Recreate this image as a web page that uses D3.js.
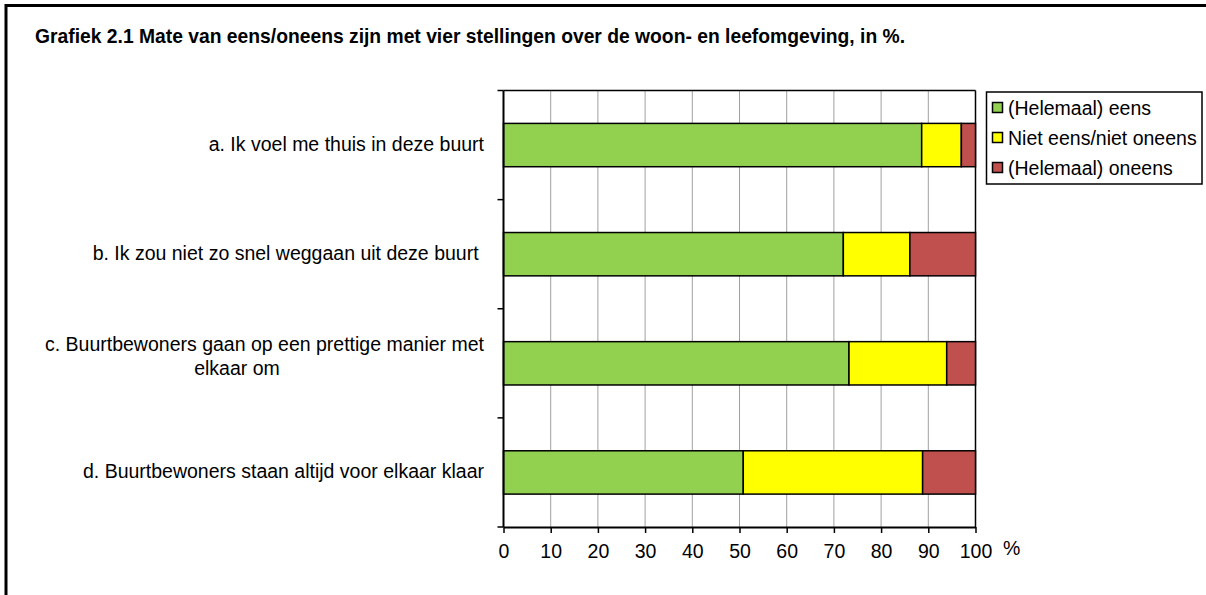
<!DOCTYPE html>
<html><head><meta charset="utf-8">
<script src="https://cdn.jsdelivr.net/npm/d3@7"></script>
<style>
body{margin:0;background:#fff}
text{font-family:"Liberation Sans",Arial,sans-serif;white-space:pre;fill:#000}
</style>
</head><body><svg id="c" width="1206" height="595"></svg>
<script>
const title = "Grafiek 2.1 Mate van eens/oneens zijn met vier stellingen over de woon- en leefomgeving, in %.";
const categories = [
  "a. Ik voel me thuis in deze buurt",
  "b. Ik zou niet zo snel weggaan uit deze buurt ",
  "c. Buurtbewoners gaan op een prettige manier met|elkaar om",
  "d. Buurtbewoners staan altijd voor elkaar klaar"
];
const seriesNames = ["(Helemaal) eens", "Niet eens/niet oneens", "(Helemaal) oneens"];
const eens     = [88.6, 72.0, 73.2, 50.8];
const neutraal = [8.4, 14.1, 20.7, 38.0];
const oneens   = [3.0, 13.9, 6.1, 11.2];
const xTicks = [0, 10, 20, 30, 40, 50, 60, 70, 80, 90, 100];
const colors = ["#92D050", "#FFFF00", "#C0504D"];

const svg = d3.select("#c");
const FS = 19.5;

// outer frame
svg.append("rect").attr("x", 6).attr("y", 5.5).attr("width", 1400).attr("height", 800)
  .attr("fill", "none").attr("stroke", "#000").attr("stroke-width", 3);

svg.append("text").attr("x", 35).attr("y", 43)
  .style("font-weight", "bold").style("font-size", "19.3px").text(title);

const x = d3.scaleLinear().domain([0, 100]).range([503.5, 975.5]);
const y = d3.scaleBand().domain(categories).range([90.5, 527]).padding(0);
const barH = y.bandwidth() * 0.397;

const g = svg.append("g");

// gridlines
g.selectAll("line.grid").data(xTicks.slice(1, -1)).join("line")
  .attr("x1", d => x(d)).attr("x2", d => x(d))
  .attr("y1", y.range()[0]).attr("y2", y.range()[1])
  .attr("stroke", "#a0a0a0").attr("stroke-width", 1);

// plot border top / right
g.append("line").attr("x1", x(0)).attr("x2", x(100)).attr("y1", y.range()[0]).attr("y2", y.range()[0])
  .attr("stroke", "#000").attr("stroke-width", 1.5);
g.append("line").attr("x1", x(100)).attr("x2", x(100)).attr("y1", y.range()[0]).attr("y2", y.range()[1])
  .attr("stroke", "#000").attr("stroke-width", 1.5);

// stacked bars
const rows = categories.map((c, i) => ({cat: c, s0: eens[i], s1: neutraal[i], s2: oneens[i]}));
const stack = d3.stack().keys(["s0", "s1", "s2"])(rows);
stack.forEach((layer, li) => {
  g.selectAll("rect.l" + li).data(layer).join("rect")
    .attr("x", d => x(d[0]))
    .attr("width", d => x(d[1]) - x(d[0]))
    .attr("y", d => y(d.data.cat) + (y.bandwidth() - barH) / 2)
    .attr("height", barH)
    .attr("fill", colors[li]).attr("stroke", "#000").attr("stroke-width", 1.5);
});

// x axis
const xAxis = d3.axisBottom(x).tickValues(xTicks).tickSize(6).tickSizeOuter(0).tickPadding(14);
const gx = svg.append("g").attr("transform", `translate(0,${y.range()[1]})`).call(xAxis);
gx.select(".domain").attr("stroke", "#000").attr("stroke-width", 2);
gx.selectAll(".tick line").attr("stroke", "#000").attr("stroke-width", 1.5);
gx.selectAll(".tick text").style("font-size", FS + "px").style("font-family", '"Liberation Sans",Arial,sans-serif').attr("dy", "0.71em").attr("y", 17);
svg.append("text").attr("x", 1003).attr("y", 555).style("font-size", FS + "px").text("%");

// y axis line + boundary ticks
svg.append("line").attr("x1", x(0)).attr("x2", x(0)).attr("y1", y.range()[0]).attr("y2", y.range()[1])
  .attr("stroke", "#000").attr("stroke-width", 2);
const bounds = categories.map(c => y(c)).concat([y.range()[1]]);
svg.selectAll("line.yt").data(bounds).join("line")
  .attr("x1", x(0) - 6).attr("x2", x(0)).attr("y1", d => d).attr("y2", d => d)
  .attr("stroke", "#000").attr("stroke-width", 1.5);

// category labels
const labelRight = 484;
categories.forEach(c => {
  const lines = c.split("|");
  const cy = y(c) + y.bandwidth() / 2;
  if (lines.length === 1) {
    svg.append("text").attr("x", labelRight).attr("y", cy + 6).attr("text-anchor", "end")
      .style("font-size", FS + "px").text(lines[0]);
  } else {
    svg.append("text").attr("x", labelRight).attr("y", cy - 12).attr("text-anchor", "end")
      .style("font-size", FS + "px").text(lines[0]);
    svg.append("text").attr("x", labelRight - 247).attr("y", cy + 12).attr("text-anchor", "middle")
      .style("font-size", FS + "px").text(lines[1]);
  }
});

// legend
const lg = svg.append("g");
lg.append("rect").attr("x", 986.5).attr("y", 92).attr("width", 215.5).attr("height", 92)
  .attr("fill", "#fff").attr("stroke", "#000").attr("stroke-width", 1.5);
seriesNames.forEach((n, i) => {
  const by = 114.5 + i * 30;
  lg.append("rect").attr("x", 992.5).attr("y", by - 12).attr("width", 10).attr("height", 10)
    .attr("fill", colors[i]).attr("stroke", "#000").attr("stroke-width", 1.5);
  lg.append("text").attr("x", 1008).attr("y", by).style("font-size", FS + "px").text(n);
});
</script>
</body></html>
